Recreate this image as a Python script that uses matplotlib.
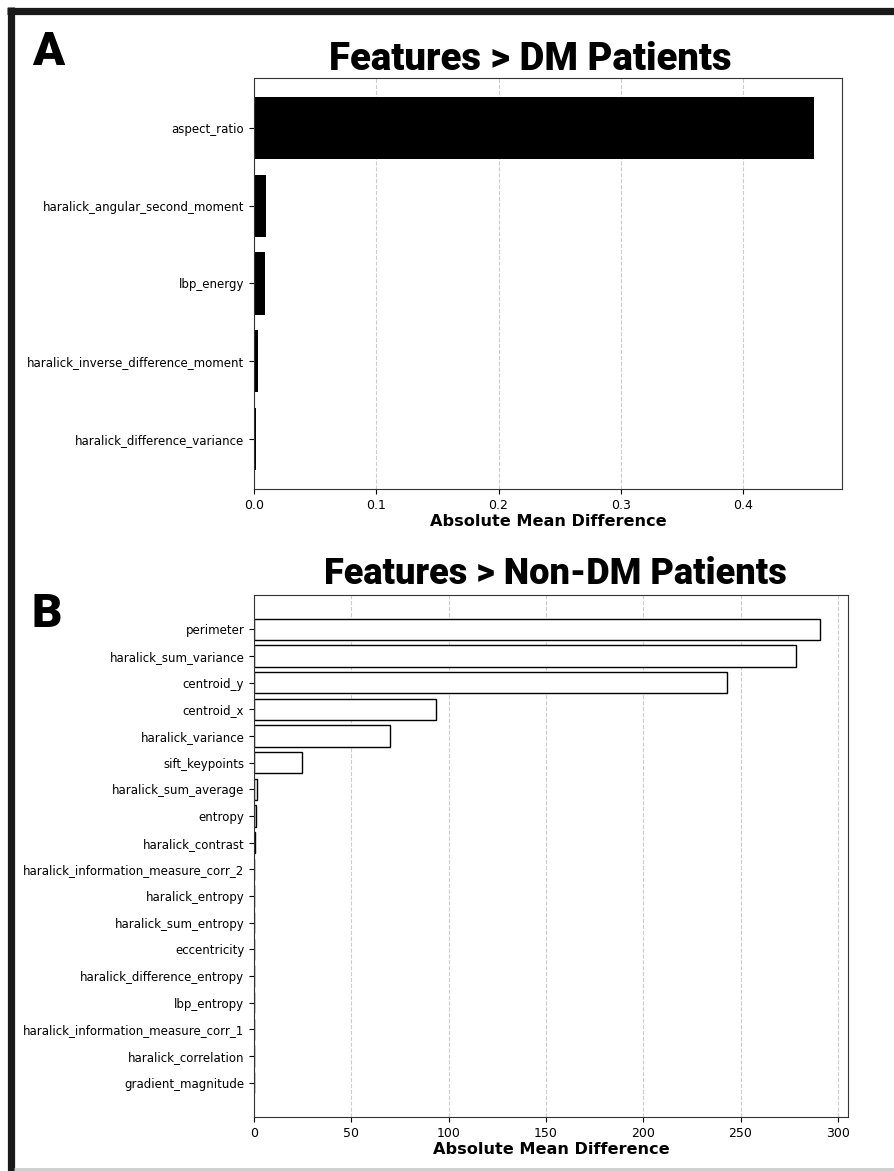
import matplotlib.pyplot as plt
from matplotlib.lines import Line2D

plt.rcParams["font.family"] = "DejaVu Sans"

# features where the DM group mean is larger
dm_features = ["aspect_ratio", "haralick_angular_second_moment", "lbp_energy",
               "haralick_inverse_difference_moment", "haralick_difference_variance"]
dm_diff = [0.458, 0.0098, 0.0090, 0.0035, 0.0015]

# features where the non-DM group mean is larger
nondm_features = ["perimeter", "haralick_sum_variance", "centroid_y", "centroid_x",
                  "haralick_variance", "sift_keypoints", "haralick_sum_average",
                  "entropy", "haralick_contrast", "haralick_information_measure_corr_2",
                  "haralick_entropy", "haralick_sum_entropy", "eccentricity",
                  "haralick_difference_entropy", "lbp_entropy",
                  "haralick_information_measure_corr_1", "haralick_correlation",
                  "gradient_magnitude"]
nondm_diff = [290.7, 278.4, 243.0, 93.5, 69.9, 24.7, 1.5, 1.0, 0.6, 0.15,
              0.12, 0.10, 0.08, 0.07, 0.05, 0.04, 0.03, 0.02]

fig = plt.figure(figsize=(8.94, 11.71), dpi=100)
W, H = 894, 1171

def px_axes(left, top, right, bottom):
    return fig.add_axes([left / W, 1 - bottom / H, (right - left) / W, (bottom - top) / H])

axA = px_axes(254, 78, 842, 489)
axA.barh(range(len(dm_features)), dm_diff, color="black")
axA.set_yticks(range(len(dm_features)))
axA.set_yticklabels(dm_features)
axA.invert_yaxis()

axB = px_axes(254, 595, 848, 1117)
axB.barh(range(len(nondm_features)), nondm_diff, color="white", edgecolor="black", linewidth=1)
axB.set_yticks(range(len(nondm_features)))
axB.set_yticklabels(nondm_features)
axB.invert_yaxis()

for ax in (axA, axB):
    ax.grid(axis="x", linestyle="--", color="#cccccc", linewidth=0.8)
    ax.set_axisbelow(True)
    ax.set_xlabel("Absolute Mean Difference", fontsize=11.6, fontweight="bold", labelpad=2)
    ax.tick_params(axis="y", labelsize=8.5)
    ax.tick_params(axis="x", labelsize=9)
    for s in ax.spines.values():
        s.set_color("#333333")

# panel titles and letters
fig.text(530 / W, 1 - 70 / H, "Features > DM Patients", family="Roboto",
         fontweight="black", fontsize=27.5, ha="center", va="baseline")
fig.text(555 / W, 1 - 584 / H, "Features > Non-DM Patients", family="Roboto",
         fontweight="black", fontsize=26, ha="center", va="baseline")
fig.text(32 / W, 1 - 65 / H, "A", family="Roboto", fontweight="black",
         fontsize=34, va="baseline")
fig.text(32 / W, 1 - 627 / H, "B", family="Roboto", fontweight="black",
         fontsize=34, va="baseline")

# outer frame
fig.add_artist(Line2D([7 / W, 1], [1 - 10.5 / H] * 2, color="#1a1a1a", linewidth=5.2,
                      solid_capstyle="butt"))
fig.add_artist(Line2D([10.5 / W] * 2, [0, 1 - 7 / H], color="#1a1a1a", linewidth=5.2,
                      solid_capstyle="butt"))
fig.add_artist(Line2D([14 / W, 1], [1 - 1168.5 / H] * 2, color="#cccccc", linewidth=2,
                      solid_capstyle="butt"))

fig.savefig("out.png", dpi=100)
